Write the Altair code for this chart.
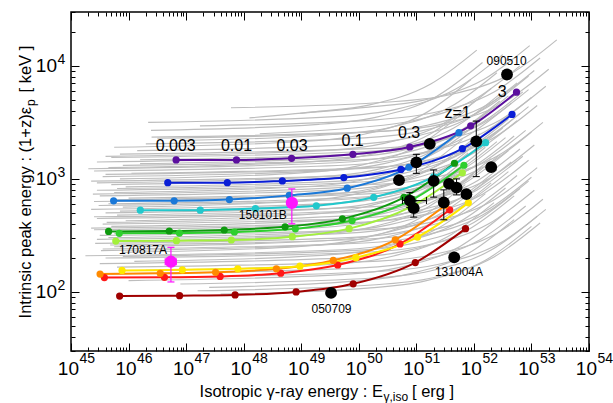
import altair as alt
import pandas as pd

FONT = "Liberation Sans"

# ---------------- coloured model curves (dots at z = 0.003 ... 3) ----------------
curve_names = ["darkred", "red", "orange", "yellow", "lime", "green", "darkgreen",
               "cyan", "azure", "blue", "violet"]
curve_colors = ["#a00000", "#ff1818", "#ff8a00", "#ffe800", "#a3f03c", "#2ecf2e", "#0f990f",
                "#22c8cc", "#1a78d8", "#0a1ed6", "#5b0f9e"]

violet_E = [6.7e46, 7.5e47, 6.8e48, 7.9e49, 7.7e50, 8.8e51, 5.5e52]
violet_Ep = [1472, 1472, 1523, 1652, 1916, 2948, 5861]
blue_E = [4.8e46, 5.2e47, 4.7e48, 5.5e49, 5.4e50, 6.3e51, 4.6e52]
blue_Ep = [927, 927, 960, 1027, 1213, 1851, 3724]
azure_E = [5.5e45, 6.2e46, 5.65e47, 6.2e48, 6.3e49, 7.4e50, 5.5e51]
azure_Ep = [640, 640, 657, 715, 828, 1268, 2563]
cyan_E = [1.6e46, 1.76e47, 1.6e48, 1.83e49, 1.82e50, 2.0e51, 1.6e52]
cyan_Ep = [529, 529, 547, 578, 687, 1041, 2091]
darkgreen_E = [4.5e45, 5.1e46, 4.6e47, 5.25e48, 5.2e49, 6.1e50, 4.6e51]
darkgreen_Ep = [343, 346, 353, 377, 443, 687, 1376]
green_E = [6.9e45, 7.65e46, 6.9e47, 7.9e48, 7.65e49, 8.7e50, 6.7e51]
green_Ep = [330, 332, 339, 362, 428, 659, 1321]
lime_E = [6.0e45, 6.8e46, 6.1e47, 7.0e48, 6.8e49, 7.8e50, 6.3e51]
lime_Ep = [282, 284, 288, 308, 363, 563, 1134]
yellow_E = [7.7e45, 8.6e46, 7.9e47, 9.5e48, 8.9e49, 1.05e51, 8.0e51]
yellow_Ep = [155, 157, 160, 169, 201, 306, 614]
orange_E = [3.2e45, 3.55e46, 3.25e47, 3.7e48, 3.6e49, 4.3e50, 3.2e51]
orange_Ep = [144, 146, 149, 160, 190, 289, 584]
red_E = [3.8e45, 4.2e46, 3.9e47, 4.4e48, 4.3e49, 5.2e50, 3.8e51]
red_Ep = [134, 134.5, 137, 146.5, 173, 266, 533]
darkred_E = [7.0e45, 7.7e46, 7.1e47, 8.15e48, 8.0e49, 9.6e50, 7.15e51]
darkred_Ep = [91.8, 92.7, 94.1, 100, 118, 182, 363]

curve_E = [darkred_E, red_E, orange_E, yellow_E, lime_E, green_E, darkgreen_E,
           cyan_E, azure_E, blue_E, violet_E]
curve_Ep = [darkred_Ep, red_Ep, orange_Ep, yellow_Ep, lime_Ep, green_Ep, darkgreen_Ep,
            cyan_Ep, azure_Ep, blue_Ep, violet_Ep]

# redshift annotations along the top (violet) curve
zlab_text = ["0.003", "0.01", "0.03", "0.1", "0.3", "z=1", "3"]
zlab_E = [6.6e46, 7.5e47, 6.9e48, 7.8e49, 7.5e50, 5.2e51, 3.1e52]
zlab_Ep = [1968, 1968, 1968, 2178, 2563, 3846, 5903]

# ---------------- grey model curves (log10 values) ----------------
gray_logE = [
    [47.78, 50.59, 51.58, 52.64, 53.44], [48.98, 50.12, 51.11, 52.17, 52.97],
    [48.10, 49.20, 50.19, 51.25, 52.05], [46.34, 49.65, 50.64, 51.70, 52.50],
    [47.24, 50.30, 51.29, 52.35, 53.15], [46.39, 49.30, 50.29, 51.35, 52.15],
    [48.28, 49.95, 50.94, 52.00, 52.80], [46.40, 50.45, 51.44, 52.50, 53.30],
    [46.90, 49.55, 50.54, 51.60, 52.40], [46.30, 50.10, 51.09, 52.15, 52.95],
    [45.75, 49.10, 50.09, 51.15, 51.95], [46.15, 49.90, 50.89, 51.95, 52.75],
    [45.85, 50.40, 51.39, 52.45, 53.25], [45.60, 49.45, 50.44, 51.50, 52.30],
    [46.20, 50.00, 50.99, 52.05, 52.85], [45.45, 49.60, 50.59, 51.65, 52.45],
    [45.90, 50.15, 51.14, 52.20, 53.00], [45.65, 49.20, 50.19, 51.25, 52.05],
    [45.40, 49.80, 50.79, 51.85, 52.65], [46.05, 50.25, 51.24, 52.30, 53.10],
    [45.55, 49.45, 50.44, 51.50, 52.30], [45.85, 49.00, 49.99, 51.05, 51.85],
    [45.35, 49.95, 50.94, 52.00, 52.80], [45.70, 49.35, 50.34, 51.40, 52.20],
    [45.95, 49.75, 50.74, 51.80, 52.60], [45.45, 50.35, 51.34, 52.40, 53.20],
    [45.75, 49.10, 50.09, 51.15, 51.95], [45.50, 49.65, 50.64, 51.70, 52.50],
    [46.00, 50.05, 51.04, 52.10, 52.90], [45.40, 49.25, 50.24, 51.30, 52.10],
    [45.65, 49.85, 50.84, 51.90, 52.70], [45.90, 48.95, 49.94, 51.00, 51.80],
    [45.35, 49.55, 50.54, 51.60, 52.40], [45.60, 50.20, 51.19, 52.25, 53.05],
    [45.80, 49.35, 50.34, 51.40, 52.20], [45.45, 49.75, 50.74, 51.80, 52.60],
    [45.95, 49.05, 50.04, 51.10, 51.90], [45.55, 50.00, 50.99, 52.05, 52.85],
    [45.70, 49.45, 50.44, 51.50, 52.30], [45.40, 49.80, 50.79, 51.85, 52.65],
    [45.85, 48.90, 49.89, 50.95, 51.75], [45.50, 50.25, 51.24, 52.30, 53.10],
    [45.65, 49.55, 50.54, 51.60, 52.40], [46.05, 49.15, 50.14, 51.20, 52.00],
    [45.42, 49.90, 50.89, 51.95, 52.75], [45.75, 49.40, 50.39, 51.45, 52.25],
    [45.55, 50.10, 51.09, 52.15, 52.95], [45.90, 49.00, 49.99, 51.05, 51.85],
    [45.25, 49.70, 50.69, 51.75, 52.55], [45.60, 50.20, 51.19, 52.25, 53.05],
    [46.10, 49.35, 50.34, 51.40, 52.20], [45.50, 49.85, 50.84, 51.90, 52.70],
    [45.80, 50.35, 51.34, 52.40, 53.20], [46.30, 49.50, 50.49, 51.55, 52.35],
    [45.70, 50.05, 51.04, 52.10, 52.90], [46.60, 50.40, 51.39, 52.45, 53.25],
    [46.00, 49.70, 50.69, 51.75, 52.55], [46.90, 50.25, 51.24, 52.30, 53.10],
    [47.40, 49.85, 50.84, 51.90, 52.70], [47.20, 50.30, 51.29, 52.35, 53.15],
    [47.60, 50.15, 51.14, 52.20, 53.00], [45.30, 49.60, 50.59, 51.65, 52.45],
    [45.60, 50.10, 51.09, 52.15, 52.95], [45.45, 49.30, 50.29, 51.35, 52.15],
    [45.80, 49.90, 50.89, 51.95, 52.75], [45.38, 49.50, 50.49, 51.55, 52.35],
    [45.70, 50.15, 51.14, 52.20, 53.00], [45.48, 49.70, 50.69, 51.75, 52.55],
    [45.85, 49.20, 50.19, 51.25, 52.05], [45.40, 49.95, 50.94, 52.00, 52.80],
    [45.62, 49.60, 50.59, 51.65, 52.45], [45.35, 50.10, 51.09, 52.15, 52.95],
    [45.75, 49.30, 50.29, 51.35, 52.15], [45.45, 49.75, 50.74, 51.80, 52.60],
    [45.68, 50.15, 51.14, 52.20, 53.00], [45.52, 49.45, 50.44, 51.50, 52.30],
    [45.90, 49.95, 50.94, 52.00, 52.80], [46.20, 49.75, 50.74, 51.80, 52.60],
    [45.70, 50.10, 51.09, 52.15, 52.95], [46.50, 50.20, 51.19, 52.25, 53.05],
]
gray_logEp = [
    [3.63, 3.683, 3.745, 3.93, 4.23], [3.58, 3.633, 3.695, 3.88, 4.18],
    [3.54, 3.593, 3.655, 3.84, 4.14], [3.50, 3.553, 3.615, 3.80, 4.10],
    [3.47, 3.523, 3.585, 3.77, 4.07], [3.43, 3.483, 3.545, 3.73, 4.03],
    [3.40, 3.453, 3.515, 3.70, 4.00], [3.37, 3.423, 3.485, 3.67, 3.97],
    [3.34, 3.393, 3.455, 3.64, 3.94], [3.31, 3.363, 3.425, 3.61, 3.91],
    [3.28, 3.333, 3.395, 3.58, 3.88], [3.25, 3.303, 3.365, 3.55, 3.85],
    [3.22, 3.273, 3.335, 3.52, 3.82], [3.20, 3.253, 3.315, 3.50, 3.80],
    [3.17, 3.223, 3.285, 3.47, 3.77], [3.15, 3.203, 3.265, 3.45, 3.75],
    [3.12, 3.173, 3.235, 3.42, 3.72], [3.10, 3.153, 3.215, 3.40, 3.70],
    [3.07, 3.123, 3.185, 3.37, 3.67], [3.05, 3.103, 3.165, 3.35, 3.65],
    [3.02, 3.073, 3.135, 3.32, 3.62], [3.00, 3.053, 3.115, 3.30, 3.60],
    [2.98, 3.033, 3.095, 3.28, 3.58], [2.95, 3.003, 3.065, 3.25, 3.55],
    [2.93, 2.983, 3.045, 3.23, 3.53], [2.90, 2.953, 3.015, 3.20, 3.50],
    [2.88, 2.933, 2.995, 3.18, 3.48], [2.85, 2.903, 2.965, 3.15, 3.45],
    [2.83, 2.883, 2.945, 3.13, 3.43], [2.80, 2.853, 2.915, 3.10, 3.40],
    [2.78, 2.833, 2.895, 3.08, 3.38], [2.75, 2.803, 2.865, 3.05, 3.35],
    [2.73, 2.783, 2.845, 3.03, 3.33], [2.70, 2.753, 2.815, 3.00, 3.30],
    [2.68, 2.733, 2.795, 2.98, 3.28], [2.65, 2.703, 2.765, 2.95, 3.25],
    [2.63, 2.683, 2.745, 2.93, 3.23], [2.60, 2.653, 2.715, 2.90, 3.20],
    [2.58, 2.633, 2.695, 2.88, 3.18], [2.55, 2.603, 2.665, 2.85, 3.15],
    [2.53, 2.583, 2.645, 2.83, 3.13], [2.50, 2.553, 2.615, 2.80, 3.10],
    [2.48, 2.533, 2.595, 2.78, 3.08], [2.45, 2.503, 2.565, 2.75, 3.05],
    [2.43, 2.483, 2.545, 2.73, 3.03], [2.40, 2.453, 2.515, 2.70, 3.00],
    [2.38, 2.433, 2.495, 2.68, 2.98], [2.35, 2.403, 2.465, 2.65, 2.95],
    [2.32, 2.373, 2.435, 2.62, 2.92], [2.30, 2.353, 2.415, 2.60, 2.90],
    [2.27, 2.323, 2.385, 2.57, 2.87], [2.25, 2.303, 2.365, 2.55, 2.85],
    [2.22, 2.273, 2.335, 2.52, 2.82], [2.19, 2.243, 2.305, 2.49, 2.79],
    [2.16, 2.213, 2.275, 2.46, 2.76], [2.13, 2.183, 2.245, 2.43, 2.73],
    [2.10, 2.153, 2.215, 2.40, 2.70], [2.07, 2.123, 2.185, 2.37, 2.67],
    [2.04, 2.093, 2.155, 2.34, 2.64], [2.01, 2.063, 2.125, 2.31, 2.61],
    [1.98, 2.033, 2.095, 2.28, 2.58], [3.09, 3.143, 3.205, 3.39, 3.69],
    [3.04, 3.093, 3.155, 3.34, 3.64], [2.965, 3.018, 3.08, 3.265, 3.565],
    [2.915, 2.968, 3.03, 3.215, 3.515], [2.865, 2.918, 2.98, 3.165, 3.465],
    [2.815, 2.868, 2.93, 3.115, 3.415], [2.765, 2.818, 2.88, 3.065, 3.365],
    [2.715, 2.768, 2.83, 3.015, 3.315], [2.665, 2.718, 2.78, 2.965, 3.265],
    [2.615, 2.668, 2.73, 2.915, 3.215], [2.565, 2.618, 2.68, 2.865, 3.165],
    [2.515, 2.568, 2.63, 2.815, 3.115], [2.465, 2.518, 2.58, 2.765, 3.065],
    [2.415, 2.468, 2.53, 2.715, 3.015], [2.365, 2.418, 2.48, 2.665, 2.965],
    [2.315, 2.368, 2.43, 2.615, 2.915], [3.135, 3.188, 3.25, 3.435, 3.735],
    [3.19, 3.243, 3.305, 3.49, 3.79], [3.36, 3.413, 3.475, 3.66, 3.96],
]

# ---------------- observed GRBs ----------------
obs_E = [3.76e52, 1.71e51, 1.0e51, 5.0e50, 1.10e52, 2.0e52, 2.0e51, 3.7e51,
         5.0e51, 7.4e51, 3.0e51, 7.7e50, 9.0e50, 3.3e49, 4.55e51]
obs_Ep = [8400, 2040, 1400, 975, 2150, 1270, 960, 903, 838, 733, 618, 643, 551, 98, 202]
oerr_E = [1.0e51, 1.10e52, 2.0e51, 5.0e51, 3.0e51, 7.7e50, 9.0e50]
oerr_lo = [1120, 1048, 690, 722, 435, 560, 459]
oerr_hi = [1650, 3250, 1200, 1000, 800, 757, 640]
oxerr_Ep = [643]
oxerr_lo = [5.74e50]
oxerr_hi = [1.50e51]

mag_E = [6.87e48, 5.45e46]
mag_Ep = [614, 185]
mag_lo = [401, 122.5]
mag_hi = [816, 248]
magx_Ep = [185]
magx_lo = [4.34e46]
magx_hi = [6.73e46]

name_text = ["090510", "131004A", "050709", "150101B", "170817A"]
name_E = [3.7e52, 5.5e51, 3.36e49, 2.15e48, 1.78e46]
name_Ep = [11000, 149, 70.8, 484, 236]

x_tick_exp = ["45", "46", "47", "48", "49", "50", "51", "52", "53", "54"]
y_tick_exp = ["2", "3", "4"]
minor_mult = [1, 2, 3, 4, 5, 6, 7, 8, 9]

# ---------------- tables ----------------
curves = pd.DataFrame([
    {"curve": n, "k": k, "E": e, "Ep": p}
    for n, Es, Ps in zip(curve_names, curve_E, curve_Ep)
    for k, (e, p) in enumerate(zip(Es, Ps))
])
gray = pd.DataFrame([
    {"line": i, "k": k, "E": 10.0 ** lx, "Ep": 10.0 ** ly}
    for i, (lxs, lys) in enumerate(zip(gray_logE, gray_logEp))
    for k, (lx, ly) in enumerate(zip(lxs, lys))
])
zlab = pd.DataFrame({"E": zlab_E, "Ep": zlab_Ep, "t": zlab_text})
obs = pd.DataFrame({"E": obs_E, "Ep": obs_Ep})
oerr = pd.DataFrame({"E": oerr_E, "lo": oerr_lo, "hi": oerr_hi})
oxerr = pd.DataFrame({"Ep": oxerr_Ep, "lo": oxerr_lo, "hi": oxerr_hi})
mag = pd.DataFrame({"E": mag_E, "Ep": mag_Ep, "lo": mag_lo, "hi": mag_hi})
magx = pd.DataFrame({"Ep": magx_Ep, "lo": magx_lo, "hi": magx_hi})
names = pd.DataFrame({"E": name_E, "Ep": name_Ep, "t": name_text})
xt = pd.DataFrame({"v": [float("1e" + s) for s in x_tick_exp], "s": x_tick_exp})
yt = pd.DataFrame({"v": [float("1e" + s) for s in y_tick_exp], "s": y_tick_exp})

x_tick_vals = [m * 10.0 ** int(e) for e in x_tick_exp[:-1] for m in minor_mult] + [1e54]
y_tick_vals = [m * 10.0 for m in minor_mult[2:]] + \
              [m * 10.0 ** int(e) for e in y_tick_exp for m in minor_mult] + [2e4, 3e4]

# ---------------- scales / axes ----------------
xscale = alt.Scale(type="log", domain=[1e45, 1e54], nice=False)
yscale = alt.Scale(type="log", domain=[30, 30000], nice=False)
major = "abs(log(datum.value)/LN10 - round(log(datum.value)/LN10)) < 0.01"
tsize = {"condition": {"test": major, "value": -8}, "value": -4}


def mk_axis(orient, vals):
    return alt.Axis(orient=orient, values=vals, labels=False, domain=False, grid=False,
                    title=None, ticks=True, tickColor="black", tickWidth=1,
                    tickSize=tsize, zindex=2)


def X(f, ax=None):
    return alt.X(f, type="quantitative", scale=xscale, axis=ax)


def Y(f, ax=None):
    return alt.Y(f, type="quantitative", scale=yscale, axis=ax)


color = alt.Color("curve:N", scale=alt.Scale(domain=curve_names, range=curve_colors), legend=None)

gray_layer = alt.Chart(gray).mark_line(color="#bdbdbd", strokeWidth=1.15, interpolate="monotone").encode(
    x=X("E", mk_axis("bottom", x_tick_vals)), y=Y("Ep", mk_axis("left", y_tick_vals)),
    detail="line:N", order="k:Q")

curve_lines = alt.Chart(curves).mark_line(strokeWidth=2, interpolate="monotone").encode(
    x=X("E", mk_axis("top", x_tick_vals)), y=Y("Ep", mk_axis("right", y_tick_vals)),
    color=color, order="k:Q")
curve_dots = alt.Chart(curves).mark_circle(size=52, opacity=1).encode(
    x=X("E"), y=Y("Ep"), color=color)

zlab_layer = alt.Chart(zlab).mark_text(fontSize=16, font=FONT, color="black", baseline="middle").encode(
    x=X("E"), y=Y("Ep"), text="t:N")

err_rule = alt.Chart(oerr).mark_rule(color="black", strokeWidth=1).encode(x=X("E"), y=Y("lo"), y2="hi")
err_lo = alt.Chart(oerr).mark_tick(orient="horizontal", size=7, thickness=1, color="black", opacity=1).encode(
    x=X("E"), y=Y("lo"))
err_hi = alt.Chart(oerr).mark_tick(orient="horizontal", size=7, thickness=1, color="black", opacity=1).encode(
    x=X("E"), y=Y("hi"))
xerr_rule = alt.Chart(oxerr).mark_rule(color="black", strokeWidth=1).encode(x=X("lo"), x2="hi", y=Y("Ep"))
xerr_lo = alt.Chart(oxerr).mark_tick(orient="vertical", size=7, thickness=1, color="black", opacity=1).encode(
    x=X("lo"), y=Y("Ep"))
xerr_hi = alt.Chart(oxerr).mark_tick(orient="vertical", size=7, thickness=1, color="black", opacity=1).encode(
    x=X("hi"), y=Y("Ep"))
obs_pts = alt.Chart(obs).mark_circle(size=140, color="black", opacity=1).encode(x=X("E"), y=Y("Ep"))

MAG = "#ff14ff"
mag_rule = alt.Chart(mag).mark_rule(color=MAG, strokeWidth=1.2).encode(x=X("E"), y=Y("lo"), y2="hi")
mag_lo_t = alt.Chart(mag).mark_tick(orient="horizontal", size=7, thickness=1.2, color=MAG, opacity=1).encode(
    x=X("E"), y=Y("lo"))
mag_hi_t = alt.Chart(mag).mark_tick(orient="horizontal", size=7, thickness=1.2, color=MAG, opacity=1).encode(
    x=X("E"), y=Y("hi"))
magx_rule = alt.Chart(magx).mark_rule(color=MAG, strokeWidth=1.2).encode(x=X("lo"), x2="hi", y=Y("Ep"))
magx_lo_t = alt.Chart(magx).mark_tick(orient="vertical", size=7, thickness=1.2, color=MAG, opacity=1).encode(
    x=X("lo"), y=Y("Ep"))
magx_hi_t = alt.Chart(magx).mark_tick(orient="vertical", size=7, thickness=1.2, color=MAG, opacity=1).encode(
    x=X("hi"), y=Y("Ep"))
mag_pts = alt.Chart(mag).mark_circle(size=150, color=MAG, opacity=1).encode(x=X("E"), y=Y("Ep"))

name_layer = alt.Chart(names).mark_text(fontSize=12, font=FONT, color="black", baseline="middle").encode(
    x=X("E"), y=Y("Ep"), text="t:N")

# tick labels 10^n
xt10 = alt.Chart(xt).mark_text(text="10", align="right", baseline="alphabetic", fontSize=19,
                               font=FONT, dx=8).encode(x=X("v"), y=alt.value(363))
xtsup = alt.Chart(xt).mark_text(align="left", baseline="alphabetic", fontSize=14, font=FONT,
                                dx=8.5).encode(x=X("v"), y=alt.value(351.3), text="s:N")
yt10 = alt.Chart(yt).mark_text(text="10", align="right", baseline="alphabetic", fontSize=19,
                               font=FONT, dy=6).encode(x=alt.value(-14), y=Y("v"))
ytsup = alt.Chart(yt).mark_text(align="left", baseline="alphabetic", fontSize=14, font=FONT,
                                dy=-2.4).encode(x=alt.value(-13.5), y=Y("v"), text="s:N")

one = pd.DataFrame({"a": [0]})
xtitle1 = alt.Chart(one).mark_text(align="right", baseline="alphabetic", fontSize=16.5, font=FONT).encode(
    x=alt.value(312), y=alt.value(385), text=alt.value("Isotropic γ-ray energy : E"))
xtitle2 = alt.Chart(one).mark_text(align="left", baseline="alphabetic", fontSize=12, font=FONT).encode(
    x=alt.value(312.5), y=alt.value(389), text=alt.value("γ,iso"))
xtitle3 = alt.Chart(one).mark_text(align="left", baseline="alphabetic", fontSize=16.5, font=FONT).encode(
    x=alt.value(341), y=alt.value(385), text=alt.value("[ erg ]"))
ytitle1 = alt.Chart(one).mark_text(align="right", baseline="alphabetic", fontSize=16.5, font=FONT,
                                   angle=270).encode(
    x=alt.value(-40.5), y=alt.value(95), text=alt.value("Intrinsic peak energy : (1+z)ε"))
ytitle2 = alt.Chart(one).mark_text(align="left", baseline="alphabetic", fontSize=12, font=FONT,
                                   angle=270).encode(
    x=alt.value(-36.5), y=alt.value(94), text=alt.value("p"))
ytitle3 = alt.Chart(one).mark_text(align="left", baseline="alphabetic", fontSize=16.5, font=FONT,
                                   angle=270).encode(
    x=alt.value(-40.5), y=alt.value(80.5), text=alt.value("[ keV ]"))

chart = alt.layer(
    gray_layer, curve_lines, curve_dots, zlab_layer,
    err_rule, err_lo, err_hi, xerr_rule, xerr_lo, xerr_hi, obs_pts,
    mag_rule, mag_lo_t, mag_hi_t, magx_rule, magx_lo_t, magx_hi_t, mag_pts,
    name_layer, xt10, xtsup, yt10, ytsup,
    xtitle1, xtitle2, xtitle3, ytitle1, ytitle2, ytitle3,
).resolve_axis(x="independent", y="independent").properties(
    width=518, height=339,
    padding={"left": 71, "top": 12, "right": 24, "bottom": 52},
    autosize=alt.AutoSizeParams(type="none"),
    background="white",
).configure_view(stroke="black", strokeWidth=1.5)

chart.save("out.html", embed_options={"renderer": "svg", "actions": False})
